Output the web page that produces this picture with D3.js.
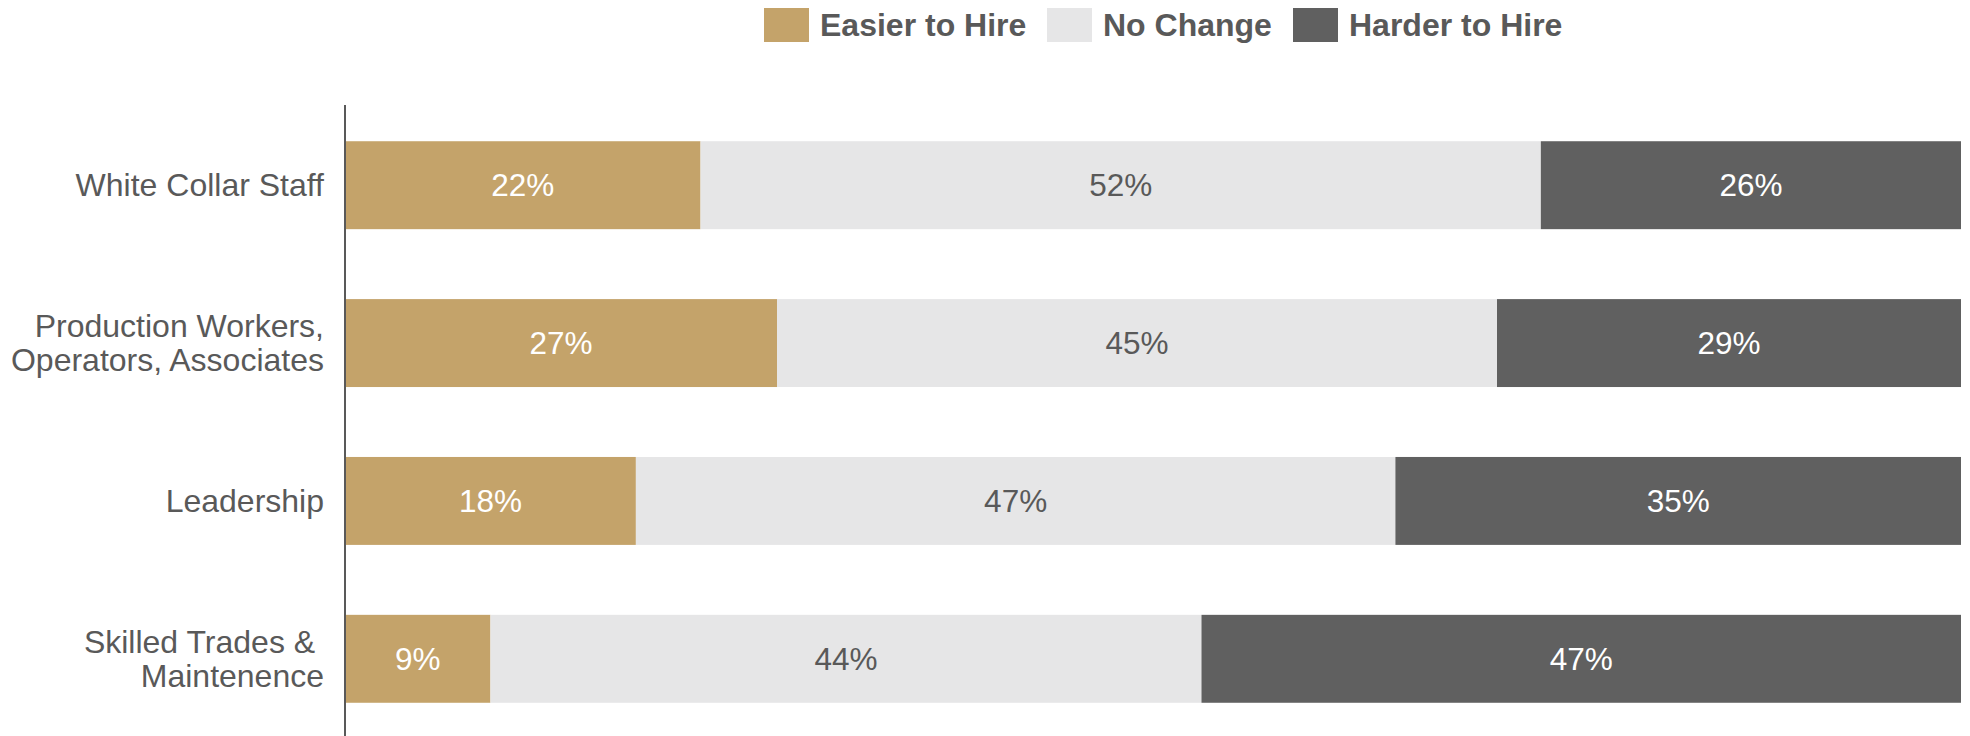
<!DOCTYPE html>
<html>
<head>
<meta charset="utf-8">
<script src="https://cdn.jsdelivr.net/npm/d3@7"></script>
<style>
  html, body { margin: 0; padding: 0; background: #ffffff; }
  svg { display: block; font-family: "Liberation Sans", Arial, sans-serif; }
  text { white-space: pre; }
</style>
</head>
<body>
<svg id="chart" width="1970" height="736"></svg>
<script>
// Hiring outlook by job category (percent of respondents)
const categories = [
  ["White Collar Staff"],
  ["Production Workers,", "Operators, Associates"],
  ["Leadership"],
  ["Skilled Trades & ", "Maintenence"]
];
const seriesNames = ["Easier to Hire", "No Change", "Harder to Hire"];
const easier    = [22, 27, 18, 9];
const noChange  = [52, 45, 47, 44];
const harder    = [26, 29, 35, 47];
const seriesColors = ["#C4A36A", "#E6E6E7", "#606060"];
const labelColors  = ["#FFFFFF", "#595959", "#FFFFFF"];

const left = 345, right = 1961;

const rows = categories.map((c, i) => ({
  key: c.join(" "),
  lines: c,
  "Easier to Hire": easier[i],
  "No Change": noChange[i],
  "Harder to Hire": harder[i]
}));

// each row fills the full width (shares normalised to the row total)
const stack = d3.stack().keys(seriesNames).offset(d3.stackOffsetExpand);
const layers = stack(rows);

const x = d3.scaleLinear().domain([0, 1]).range([left, right]);
const y = d3.scaleBand()
  .domain(rows.map(r => r.key))
  .range([106.5, 737.5])
  .paddingInner(0.443)
  .paddingOuter(0.22);

const svg = d3.select("#chart");

// bars and in-bar value labels
const g = svg.append("g");
layers.forEach((layer, li) => {
  g.append("g").attr("fill", seriesColors[li])
    .selectAll("rect")
    .data(layer)
    .join("rect")
    .attr("x", d => x(d[0]))
    .attr("y", d => y(d.data.key))
    .attr("width", d => x(d[1]) - x(d[0]))
    .attr("height", y.bandwidth());

  g.append("g").selectAll("text")
    .data(layer)
    .join("text")
    .attr("x", d => (x(d[0]) + x(d[1])) / 2)
    .attr("y", d => y(d.data.key) + y.bandwidth() / 2)
    .attr("dy", "0.35em")
    .attr("text-anchor", "middle")
    .attr("fill", labelColors[li])
    .attr("font-size", 31.5)
    .text(d => d.data[seriesNames[li]] + "%");
});

// category axis
const axis = svg.append("g").attr("transform", `translate(${left},0)`)
  .call(d3.axisLeft(y).tickSize(0).tickFormat(""));
axis.select(".domain")
  .attr("d", "M0,105V736")
  .attr("stroke", "#595959")
  .attr("stroke-width", 2);

const lineGap = 34;
axis.selectAll(".tick").each(function(key) {
  const row = rows.find(r => r.key === key);
  const t = d3.select(this).append("text")
    .attr("x", -21)
    .attr("text-anchor", "end")
    .attr("fill", "#595959")
    .attr("font-size", 32);
  const n = row.lines.length;
  row.lines.forEach((ln, i) => {
    t.append("tspan")
      .attr("x", -21)
      .attr("y", (i - (n - 1) / 2) * lineGap)
      .attr("dy", "0.35em")
      .text(ln);
  });
});

// legend
const legend = svg.append("g");
const legendX = [764, 1047, 1293];
seriesNames.forEach((name, i) => {
  const item = legend.append("g").attr("transform", `translate(${legendX[i]},8)`);
  item.append("rect").attr("width", 45).attr("height", 34).attr("fill", seriesColors[i]);
  item.append("text")
    .attr("x", 56)
    .attr("y", 17)
    .attr("dy", "0.35em")
    .attr("fill", "#595959")
    .attr("font-weight", "bold")
    .attr("font-size", 32)
    .text(name);
});
</script>
</body>
</html>
